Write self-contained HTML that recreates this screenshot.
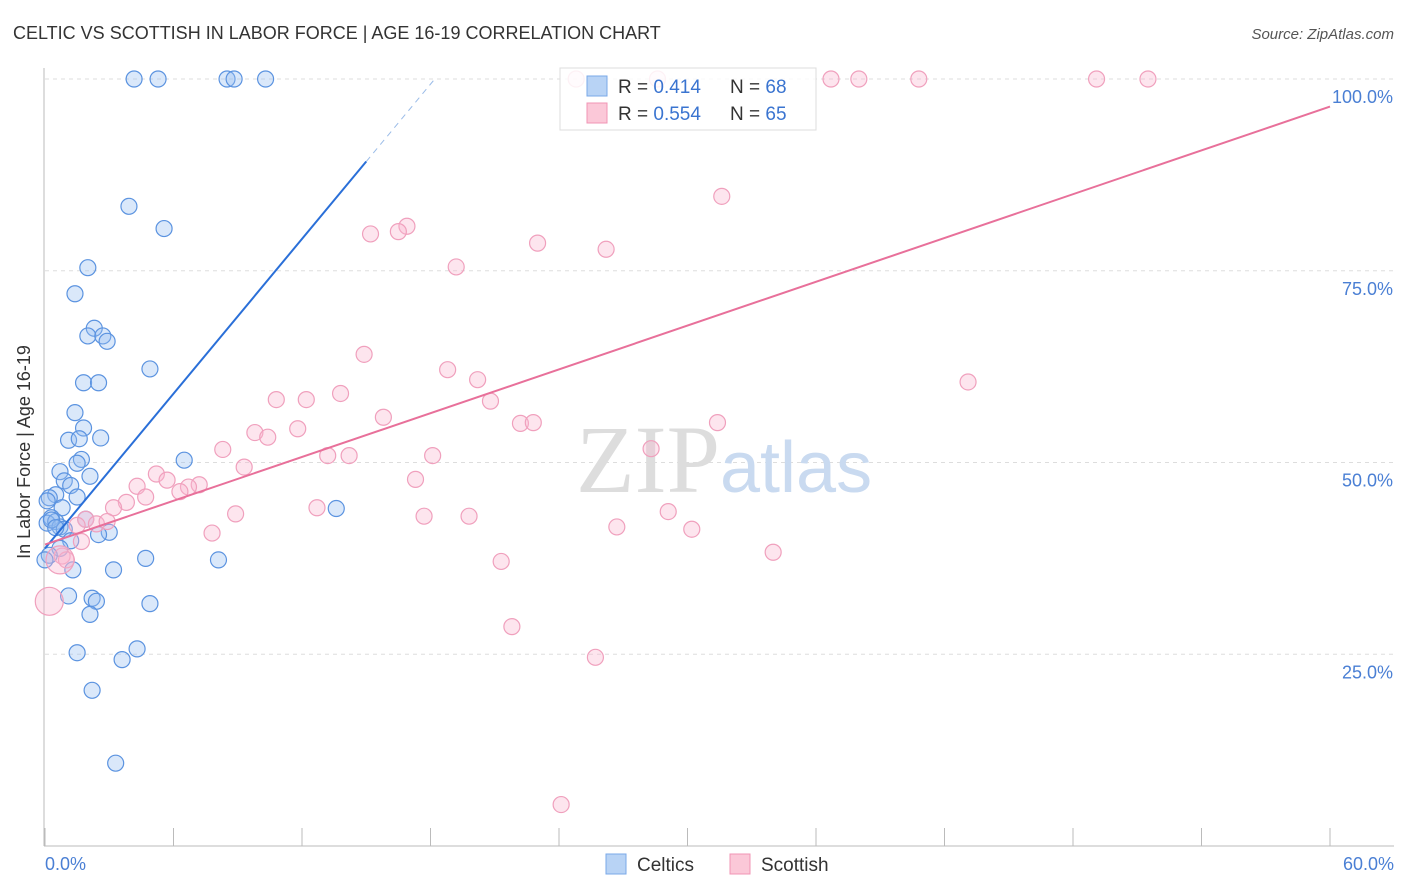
<!DOCTYPE html>
<html><head><meta charset="utf-8"><style>
html,body{margin:0;padding:0;background:#fff;width:1406px;height:892px;overflow:hidden;font-family:"Liberation Sans",sans-serif}
</style></head><body>
<svg width="1406" height="892" xmlns="http://www.w3.org/2000/svg">
<text x="13" y="39" font-size="18" fill="#333">CELTIC VS SCOTTISH IN LABOR FORCE | AGE 16-19 CORRELATION CHART</text>
<text x="1394" y="39" font-size="15" fill="#555" font-style="italic" text-anchor="end">Source: ZipAtlas.com</text>
<g id="grid"></g>
<text x="720" y="492" font-size="96" fill="#ddd" text-anchor="end" font-family="Liberation Serif">ZIP</text>
<text x="720" y="492" font-size="72" fill="#c9daf0">atlas</text>
<g id="pts"></g>
<g id="lines"></g>
<text x="36" y="458" font-size="18" fill="#333" transform="rotate(-90 30 458)" text-anchor="middle">In Labor Force | Age 16-19</text>
<text x="45" y="870" font-size="18" fill="#4a7fd4">0.0%</text>
<text x="1394" y="870" font-size="18" fill="#4a7fd4" text-anchor="end">60.0%</text>
<g>
<rect x="560" y="68" width="256" height="62" fill="rgba(255,255,255,0.85)" stroke="#ddd"/>
<rect x="587" y="76" width="20" height="20" fill="#b8d3f5" stroke="#7aa8e8"/>
<rect x="587" y="103" width="20" height="20" fill="#fbc8d8" stroke="#f094b5"/>
<text x="618" y="93" font-size="19" fill="#333">R = <tspan fill="#3a74d0">0.414</tspan></text>
<text x="730" y="93" font-size="19" fill="#333">N = <tspan fill="#3a74d0">68</tspan></text>
<text x="618" y="120" font-size="19" fill="#333">R = <tspan fill="#3a74d0">0.554</tspan></text>
<text x="730" y="120" font-size="19" fill="#333">N = <tspan fill="#3a74d0">65</tspan></text>
</g>
<g>
<rect x="606" y="854" width="20" height="20" fill="#b8d3f5" stroke="#7aa8e8"/>
<text x="637" y="871" font-size="19" fill="#333">Celtics</text>
<rect x="730" y="854" width="20" height="20" fill="#fbc8d8" stroke="#f094b5"/>
<text x="761" y="871" font-size="19" fill="#333">Scottish</text>
</g>
</svg>
<script>
const yTicks=[25,50,75,100];
const xTickVals=[0,6,12,18,24,30,36,42,48,54,60];
const celticX=[4.16,5.28,8.5,8.83,10.3,3.92,5.56,2,1.4,2.3,2,2.7,2.9,4.9,1.8,2.5,1.4,1.8,1.1,1.6,2.6,1.7,1.5,0.7,6.5,2.1,0.9,1.2,1.5,0.5,0.2,0.8,0.3,0.1,0.5,0.7,0.9,1.9,3,2.5,1.2,0.7,0.2,0,1.3,3.2,4.7,8.1,13.6,1.1,2.2,2.4,4.9,2.1,1.5,4.3,3.6,2.2,3.3,0.1,0.3,0.5];
const celticY=[100,100,100,100,100,83.4,80.5,75.4,72,67.5,66.5,66.5,65.8,62.2,60.4,60.4,56.5,54.5,52.9,53.1,53.2,50.4,49.9,48.8,50.3,48.2,47.6,47,45.5,45.8,45.4,44.1,42.8,42.1,42.3,41.6,41.3,42.6,40.9,40.6,39.8,38.8,37.9,37.3,36,36,37.5,37.3,44,32.6,32.3,31.9,31.6,30.2,25.2,25.7,24.3,20.3,10.8,45,42.5,41.5];
const scotX=[24.8,28.6,36.7,38,40.8,49.1,51.5,31.6,16.9,15.2,16.5,23,26.2,19.2,14.9,43.1,18.8,20.2,13.8,10.8,12.2,20.8,15.8,22.2,22.8,31.4,9.8,11.8,10.4,8.3,28.3,13.2,14.2,18.1,9.3,5.2,5.7,17.3,7.2,4.3,6.7,6.3,4.7,3.8,3.2,12.7,8.9,17.7,19.8,29.1,1.9,2.4,2.9,1.5,26.7,30.2,7.8,1.7,0.8,21.3,34,1,21.8,25.7,24.1,0.2,0.7];
const scotY=[100,100,100,100,100,100,100,84.7,80.8,79.8,80.1,78.6,77.8,75.5,64.1,60.5,62.1,60.8,59,58.2,58.2,58,55.9,55.1,55.2,55.2,53.9,54.4,53.3,51.7,51.8,50.9,50.9,50.9,49.4,48.5,47.7,47.8,47.1,46.9,46.8,46.2,45.5,44.8,44.1,44.1,43.3,43,43,43.6,42.6,42,42.3,41.8,41.6,41.3,40.8,39.7,37.8,37.1,38.3,37.3,28.6,24.6,5.4,31.9,37.3];
const scotR=[8,8,8,8,8,8,8,8,8,8,8,8,8,8,8,8,8,8,8,8,8,8,8,8,8,8,8,8,8,8,8,8,8,8,8,8,8,8,8,8,8,8,8,8,8,8,8,8,8,8,8,8,8,8,8,8,8,8,8,8,8,8,8,8,8,14,14];
const celticLine=[0,38.8,100];
const scotLine=[0,39.3,96.4];
const ns="http://www.w3.org/2000/svg";
const X=v=>45+v/60*1285, Y=v=>846-v*7.67;
function mk(t,a,p){const e=document.createElementNS(ns,t);for(const k in a)e.setAttribute(k,a[k]);p.appendChild(e);return e;}
const g=document.getElementById('grid');
yTicks.forEach(t=>{
 const l=mk('line',{x1:45,x2:1394,y1:Y(t),y2:Y(t),stroke:'#ddd','stroke-dasharray':'4 4'},g);
 
 
 const tx=mk('text',{x:1393,y:Y(t)+24,'font-size':18,fill:'#4a7fd4','text-anchor':'end'},g);
 tx.textContent=t.toFixed(1)+'%';
 
 
});
const ax=mk('line',{x1:44,x2:44,y1:68,y2:846,stroke:'#bbb'},g);


const bx=mk('line',{x1:44,x2:1394,y1:846,y2:846,stroke:'#bbb'},g);


xTickVals.forEach(t=>{
 const l=mk('line',{x1:X(t),x2:X(t),y1:828,y2:846,stroke:'#bbb'},g);
 
 
});
const p=document.getElementById('pts');
celticX.forEach((v,i)=>{
 const c=mk('circle',{cx:X(v),cy:Y(celticY[i]),r:8,fill:'rgba(150,190,240,0.35)',stroke:'#5b93e0','stroke-width':1.2},p);
 
 
});
scotX.forEach((v,i)=>{
 const c=mk('circle',{cx:X(v),cy:Y(scotY[i]),r:scotR[i],fill:'rgba(248,180,205,0.35)',stroke:'#f0a0bd','stroke-width':1.2},p);
 
 
});
const L=document.getElementById('lines');
const s1=(celticLine[2]-celticLine[1])/ (18.2);
const cEnd=15;
const l1=mk('line',{x1:X(0),y1:Y(celticLine[1]),x2:X(cEnd),y2:Y(celticLine[1]+s1*cEnd),stroke:'#2a6fd8','stroke-width':2},L);


const l1d=mk('line',{x1:X(cEnd),y1:Y(celticLine[1]+s1*cEnd),x2:X(18.2),y2:Y(celticLine[2]),stroke:'#9bbce8','stroke-width':1,'stroke-dasharray':'6 5'},L);


const l2=mk('line',{x1:X(0),y1:Y(scotLine[1]),x2:X(60),y2:Y(scotLine[2]),stroke:'#e8709a','stroke-width':2},L);


</script>
</body></html>
